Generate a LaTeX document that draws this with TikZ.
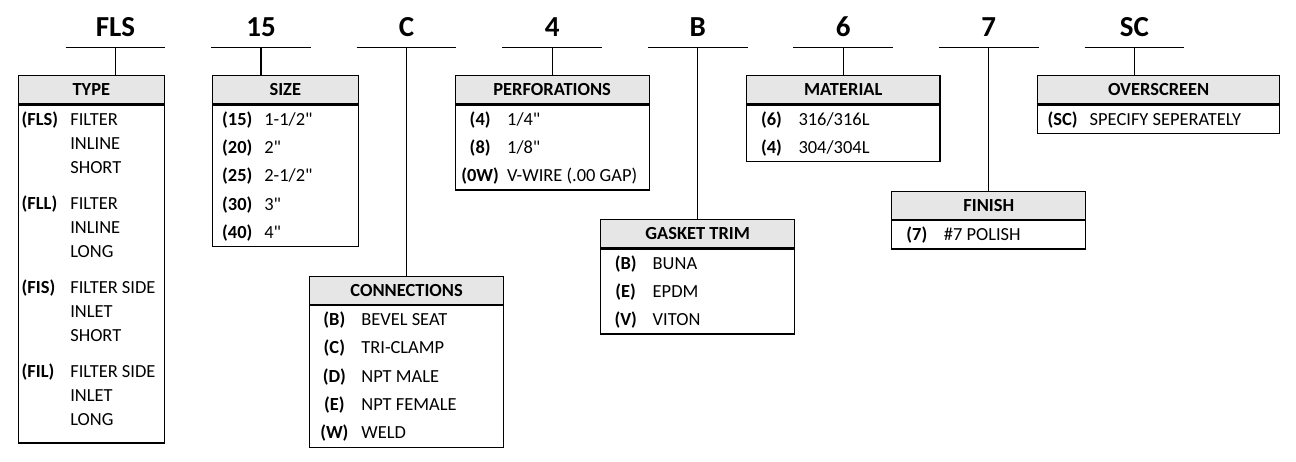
\documentclass[tikz,border=0pt]{standalone}
\usepackage{fontspec}
\setmainfont{Carlito}[Ligatures=TeXOff]
\usepackage{array}
\usetikzlibrary{calc}
\definecolor{headgray}{RGB}{230,230,230}
\renewcommand{\arraystretch}{0}
\newcommand{\rs}[1][0.166cm]{\rule[-#1]{0pt}{\dimexpr0.4cm+#1\relax}}
\newcommand{\opt}[2]{\textbf{#1} & #2\rs\\}
\newcommand{\optbox}[6][@{}w{c}{1cm}@{\hspace{0.04cm}}]{\node[opt head, minimum width=#4] (#2) at #3 {#5};\node[opt rows, minimum width=#4] (#2opts) at (#2.south) {\begin{tabular}{#1w{l}{\dimexpr#4-1.04cm\relax}@{}}#6\end{tabular}};}
\tikzset{
  pn code/.style={font=\fontsize{16.5}{18}\selectfont\bfseries, minimum width=1.97cm, inner xsep=0pt, inner ysep=0.2cm, text depth=0pt, anchor=south},
  opt head/.style={draw, fill=headgray, font=\fontsize{10.5}{12}\selectfont\bfseries, minimum height=0.566cm, inner sep=0pt, anchor=north},
  opt rows/.style={draw, inner sep=0pt, anchor=north}
}
\begin{document}
\begin{tikzpicture}[x=0.02cm, y=-0.02cm, line width=0.7pt, font=\fontsize{10.5}{12}\selectfont]
\useasboundingbox (0,0) rectangle (1296,461);
\foreach \s/\lbl [count=\i from 0] in {type/FLS, size/15, conn/C, perf/4, gasket/B, mat/6, finish/7, over/SC} {
  \node[pn code] (p\s) at (115.5+145.55*\i,47.3) {\lbl};
  \draw (p\s.south west) -- (p\s.south east);
}
\optbox[@{\hspace{0.068cm}}w{l}{0.972cm}@{}]{type}{(91.3,75)}{2.92cm}{TYPE}{%
  \textbf{(FLS)} & FILTER\rs[0.08cm]\\ & INLINE\rs[0.08cm]\\ & SHORT\rs[0.324cm]\\
  \textbf{(FLL)} & FILTER\rs[0.08cm]\\ & INLINE\rs[0.08cm]\\ & LONG\rs[0.324cm]\\
  \textbf{(FIS)} & FILTER SIDE\rs[0.08cm]\\ & INLET\rs[0.08cm]\\ & SHORT\rs[0.324cm]\\
  \textbf{(FIL)} & FILTER SIDE\rs[0.08cm]\\ & INLET\rs[0.08cm]\\ & LONG\rs[0.346cm]\\}
\optbox{size}{(285.3,75)}{2.92cm}{SIZE}{\opt{(15)}{1-1/2"}\opt{(20)}{2"}\opt{(25)}{2-1/2"}\opt{(30)}{3"}\opt{(40)}{4"}}
\optbox{conn}{($(pconn.south |- sizeopts.south)+(0,-0.566cm)$)}{3.89cm}{CONNECTIONS}{\opt{(B)}{BEVEL SEAT}\opt{(C)}{TRI-CLAMP}\opt{(D)}{NPT MALE}\opt{(E)}{NPT FEMALE}\opt{(W)}{WELD}}
\optbox{perf}{(pperf.south |- type.north)}{3.88cm}{PERFORATIONS}{\opt{(4)}{1/4"}\opt{(8)}{1/8"}\opt{(0W)}{V-WIRE (.00 GAP)}}
\optbox{gasket}{($(pgasket.south |- perfopts.south)+(0,-0.566cm)$)}{3.88cm}{GASKET TRIM}{\opt{(B)}{BUNA}\opt{(E)}{EPDM}\opt{(V)}{VITON}}
\optbox{mat}{(pmat.south |- type.north)}{3.87cm}{MATERIAL}{\opt{(6)}{316/316L}\opt{(4)}{304/304L}}
\optbox{finish}{($(pfinish.south |- matopts.south)+(0,-0.566cm)$)}{3.88cm}{FINISH}{\opt{(7)}{\#7 POLISH}}
\optbox{over}{(1158.7,75)}{4.84cm}{OVERSCREEN}{\opt{(SC)}{SPECIFY SEPERATELY}}
\foreach \s in {type, size, conn, perf, gasket, mat, finish, over}
  \draw (p\s.south) -- (p\s.south |- \s.north);
\end{tikzpicture}
\end{document}
